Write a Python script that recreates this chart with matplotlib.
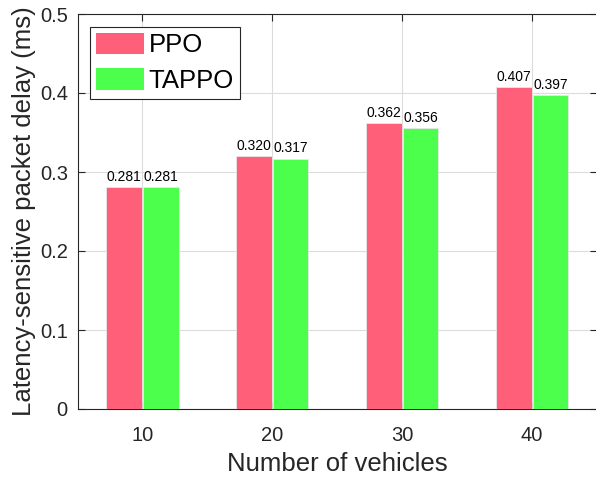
import matplotlib
matplotlib.use("Agg")
import matplotlib.pyplot as plt
import numpy as np

vehicles = [10, 20, 30, 40]
ppo = [0.281, 0.320, 0.362, 0.407]
tappo = [0.281, 0.317, 0.356, 0.397]
series_names = ["PPO", "TAPPO"]
colors = ["#FF5F78", "#4DFF4D"]

plt.rcParams['font.family'] = ['Liberation Sans', 'DejaVu Sans']

fig = plt.figure(figsize=(5.96, 4.8), dpi=100)
ax = fig.add_axes([77.5/596, 71/480, (597-77.5)/596, (409-14)/480])

x = np.array(vehicles, dtype=float)
w = 2.75
off = 1.41
b1 = ax.bar(x - off, ppo, width=w, color=colors[0], edgecolor="#e8e8e8", linewidth=0.6,
            label=series_names[0], zorder=3)
b2 = ax.bar(x + off, tappo, width=w, color=colors[1], edgecolor="#e8e8e8", linewidth=0.6,
            label=series_names[1], zorder=3)

for bars, vals in ((b1, ppo), (b2, tappo)):
    for r, v in zip(bars, vals):
        ax.annotate(f"{v:.3f}", (r.get_x() + r.get_width()/2, v), xytext=(0, 2.3),
                    textcoords="offset points", ha="center", va="bottom",
                    fontsize=10, color="black", zorder=4)

ax.set_xlim(5, 45)
ax.set_ylim(0, 0.5)
ax.set_xticks(vehicles)
ax.set_yticks([0, 0.1, 0.2, 0.3, 0.4, 0.5])
ax.set_yticklabels(["0", "0.1", "0.2", "0.3", "0.4", "0.5"])
ax.tick_params(direction="in", top=True, right=True, labelsize=14.5, colors="#262626",
               length=5, width=0.8)
for lbl in ax.get_xticklabels() + ax.get_yticklabels():
    lbl.set_color("#262626")
ax.tick_params(axis="x", pad=12)
ax.tick_params(axis="y", pad=7)
ax.grid(True, color="#dcdcdc", linewidth=0.8, zorder=0)
ax.set_axisbelow(True)
for s in ax.spines.values():
    s.set_color("#262626")
    s.set_linewidth(0.8)

ax.set_xlabel("Number of vehicles", fontsize=18.5, color="#262626", labelpad=5)
ax.set_ylabel("Latency-sensitive packet delay (ms)", fontsize=18.5, color="#262626", labelpad=3)

leg = ax.legend(loc="upper left", bbox_to_anchor=(12.5/519.5, 1 - 13/395), fontsize=18.5,
                handlelength=1.87, handleheight=0.93, handletextpad=0.2,
                borderpad=0.22, labelspacing=0.42, fancybox=False, framealpha=1,
                edgecolor="#262626", borderaxespad=0)
leg.get_frame().set_linewidth(0.8)
for p in leg.get_patches():
    p.set_edgecolor("none")

fig.savefig("out.png", dpi=100)
